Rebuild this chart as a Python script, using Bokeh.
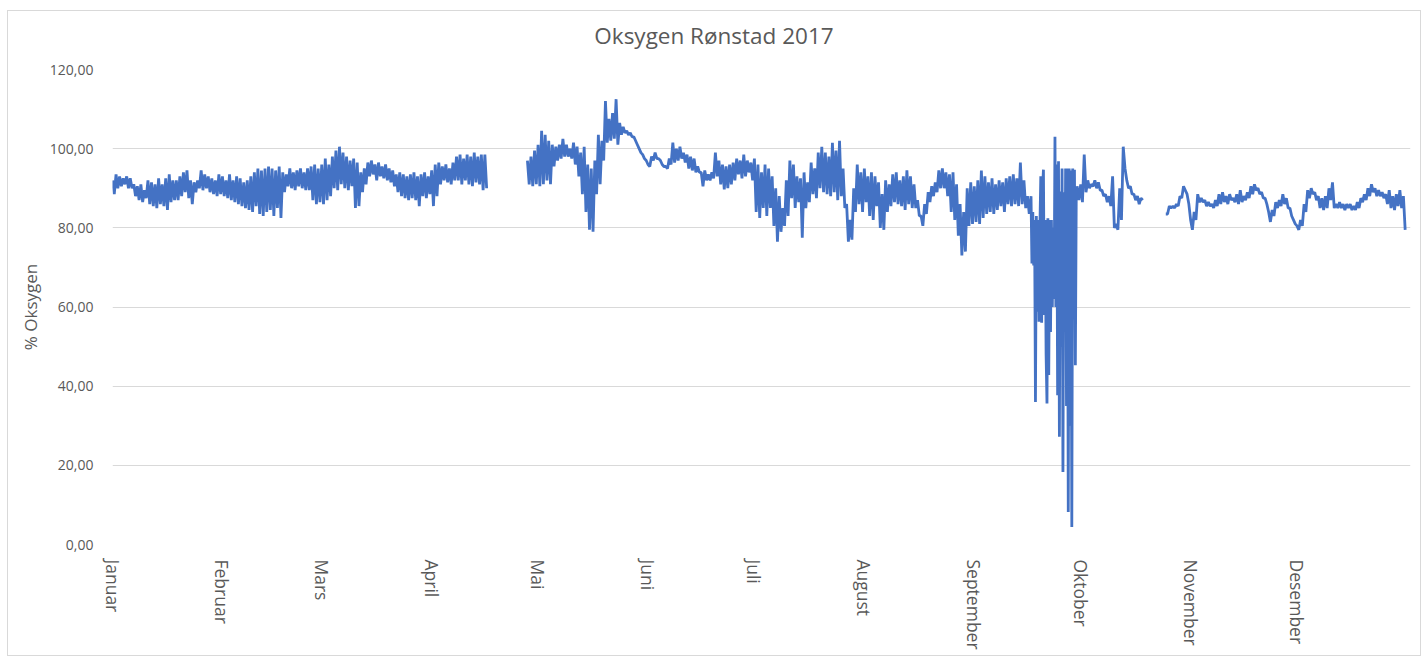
import datetime as dt
from bokeh.plotting import figure
from bokeh.layouts import column
from bokeh.models import Range1d, FixedTicker, ColumnDataSource, CustomJSTickFormatter, Div
from bokeh.embed import file_html
from bokeh.resources import INLINE

# ---------------- data (daily high / low of % oxygen) ----------------
title_text = "Oksygen Rønstad 2017"
month_names = ["Januar", "Februar", "Mars", "April", "Mai", "Juni", "Juli",
               "August", "September", "Oktober", "November", "Desember"]
y_ticks = [0, 20, 40, 60, 80, 100, 120]

hi_jan = [92, 93.5, 93, 92.5, 93, 92.5, 91, 90.5, 91, 89.5, 92, 91.5, 91, 92.5, 91, 92.5,
          93.5, 92, 92, 93, 94, 94.5, 92, 91.5, 92, 94.5, 93.5, 93, 92.5, 92, 93.5]
lo_jan = [88.5, 90, 90.5, 91, 90, 90, 88, 87, 86.5, 87.5, 86, 85.5, 85, 86, 85.5, 84.5,
          86.5, 87, 87, 88, 89, 87.5, 86, 89, 90, 89.5, 90, 89, 88.5, 88, 88.5]

hi_feb = [93, 92, 93.5, 92, 93, 92.5, 91.5, 92, 93, 94, 95, 94.5, 95, 95.5, 95, 94.5,
          95.5, 94, 93.5, 95, 94, 94.5, 95, 94, 95, 95.5, 96, 95]
lo_feb = [88, 87.5, 87, 86.5, 86, 85.5, 85, 84.5, 84, 85.5, 83.5, 83, 84, 84.5, 83, 85,
          82.5, 89, 90.5, 90, 89.5, 90.5, 90, 89.5, 89.5, 87, 86, 86.5]

hi_mar = [96, 97.5, 96, 98, 99.5, 100.5, 99, 98, 97, 97.5, 96.5, 94, 95, 96.5, 97, 96,
          96.5, 95.5, 96, 95, 94.5, 93.5, 94, 93.5, 93, 93.5, 94, 93, 93.5, 94, 93]
lo_mar = [86, 87, 88, 90, 89.5, 91, 90, 89.5, 90.5, 85, 85.5, 89, 91, 93, 93.5, 92,
          93, 92.5, 92, 91.5, 90.5, 89, 88, 87.5, 87, 87.5, 87, 85.5, 88, 87.5, 88.5]

hi_apr = [94.5, 96, 96.5, 95.5, 96, 95, 96.5, 98, 98.5, 97.5, 98.5, 98, 99, 98, 98.5, 98.5,
          None, None, None, None, None, None, None, None, None, None, None,
          97, 98, 99.5]
lo_apr = [85.5, 88, 91, 92, 91.5, 91, 92, 92, 91, 92, 91, 90.5, 91.5, 91, 89.5, 90,
          None, None, None, None, None, None, None, None, None, None, None,
          91, 90.5, 91]

hi_mai = [101, 104.5, 103.5, 102, 101, 100.5, 101, 102.5, 101, 100, 101.5, 100.5, 99, 100.5,
          96, 95, 97, 103.5, 102, 112, 107.5, 109, 112.5, 106.5, 105.5, 104.5, 104, 103,
          101, 99, 97.5]
lo_mai = [90.5, 91, 92, 91, 95.5, 97, 97.5, 98, 98, 97.5, 96, 93, 88.5, 84, 79.5, 79,
          88.5, 91, 97, 101.5, 102, 102.5, 101, 103.5, 104, 103.5, 103, 102, 100, 98.5, 97]

hi_jun = [96, 98, 99, 97.5, 96, 95.5, 97.5, 101.5, 100, 100.5, 99, 98.5, 98, 97.5, 95.5,
          94, 94.5, 93.5, 94, 99, 97, 96, 95.5, 96, 96.5, 97.5, 97, 98.5, 97, 96.5]
lo_jun = [95.5, 97, 97.5, 97, 95.5, 95, 96, 96.5, 97, 97.5, 96.5, 95, 94.5, 94, 94,
          90.5, 92, 92, 92.5, 93, 91, 89.7, 90, 91, 92, 93.5, 92.5, 93, 94, 92]

hi_jul = [97.5, 96, 94, 96, 95, 93, 90, 88, 85, 92, 97, 96, 93, 92.5, 94, 91.5, 96.5, 95,
          99, 100.5, 99, 98, 101.5, 99.5, 102, 95, 86, 82, 90, 96, 94]
lo_jul = [84, 82.5, 85, 83, 85, 80.5, 76.5, 79, 80.5, 83, 87.5, 85, 86.5, 77.5, 85, 86.5,
          88.5, 87.5, 90, 89, 88.5, 88, 89, 87, 88, 85, 76.5, 77, 84, 86, 84]

hi_aug = [95, 93, 94, 93, 91.5, 88.5, 92, 91, 93.5, 94, 92, 93, 94.5, 93, 91, 87, 83, 86,
          89, 90.5, 91.5, 94.5, 95, 94, 93.5, 94, 91, 86, 84, 90, 91.5]
lo_aug = [86.5, 83, 82, 85.5, 80, 79.5, 84, 85.5, 86.5, 86, 85.5, 84.5, 86, 85, 85, 83,
          80.5, 83.5, 86.5, 88, 89, 90, 90, 88, 84, 82, 78, 73, 74, 80.5, 81]

hi_sep = [90.5, 92, 94.5, 93, 91.5, 92.5, 91, 92, 91.5, 92.5, 93, 93.5, 92.5, 96.5, 92,
          88, 92, 86, 82, 94.5, 83, 82, 103, 96.5, 96.5, 95, 96, 95, 94.5, 90.5]
lo_sep = [81.5, 81, 82.5, 83.5, 84, 83.5, 84.5, 85.5, 84, 86, 85.5, 86, 85.5, 86, 85,
          83.5, 70.5, 36, 56, 35.5, 42.5, 56, 60, 27, 18.5, 50, 8, 4.5, 45.5, 87]

# late-September oxygen collapse, read at quarter-day resolution (days 259..271)
dip_first_day = 259
dip_samples = [88, 71, 84, 70.5, 82, 36, 83, 58.8, 82, 56.3, 80, 93,
               56, 90, 94.7, 58, 82, 48, 35.6, 82.4, 42.8, 82, 53.7, 82,
               60, 80, 62, 103, 60, 96, 37.7, 96.8, 27.2, 89.2, 50, 95,
               18.3, 89, 55, 95, 35, 95, 8.2, 95, 30, 94.5, 4.4, 95,
               60, 94.7, 45.3, 88]

hi_okt = [91, 98.5, 92, 91, 92, 91.5, 89.5, 88.5, 88, 93, 81, 90, 100.5, 92, 90.5, 88.5,
          88, 87.5, None, None, None, None, None, None,
          83.5, 85.5, 85.5, 86, 88, 90.5, 88.5]
lo_okt = [86.5, 89, 90, 90.5, 90, 89.5, 88, 86.5, 85.5, 80, 79.5, 82, 95, 90, 88.5, 87,
          86, 87, None, None, None, None, None, None,
          83.5, 85, 85, 85.5, 87.5, 89.5, 86]

hi_nov = [82, 84, 88.5, 87.5, 87, 86.5, 86, 87, 88.5, 89, 88, 88.5, 87.5, 88.5, 89.5, 88,
          89, 90.5, 91, 90, 89, 87.5, 84, 84.5, 86.5, 87, 88.5, 87.5, 85, 82]
lo_nov = [79.5, 82, 86.5, 86.5, 85.5, 85.5, 85, 85.5, 86, 86.5, 86, 87, 86.5, 86, 86.5,
          87, 87.5, 88.5, 89.5, 88.5, 87.5, 86, 81.5, 83, 85, 85.5, 86, 85, 83, 81]

hi_des = [80.5, 82, 86, 89.5, 90, 89, 88, 87.5, 88, 90, 91.5, 86, 86.5, 86, 86, 86, 85.5,
          86.5, 87.5, 88.5, 90, 91, 90, 89.5, 89, 88.5, 89.5, 88, 88.5, 89.5, 88]
lo_des = [79.5, 80.5, 84, 87.5, 88.5, 87, 85, 84.5, 85, 87, 85, 85, 85, 84.5, 85, 84.5,
          84.5, 85, 86.5, 87, 88, 89, 88, 88, 87.5, 86, 85, 84.5, 85.5, 85, 79.5]

# ---------------- build series ----------------
daily_hi = hi_jan + hi_feb + hi_mar + hi_apr + hi_mai + hi_jun + hi_jul + hi_aug + hi_sep + hi_okt + hi_nov + hi_des
daily_lo = lo_jan + lo_feb + lo_mar + lo_apr + lo_mai + lo_jun + lo_jul + lo_aug + lo_sep + lo_okt + lo_nov + lo_des

dip_days = len(dip_samples) // 4
xs, ys = [], []
for d, (h, l) in enumerate(zip(daily_hi, daily_lo)):
    if dip_first_day <= d < dip_first_day + dip_days:
        k = (d - dip_first_day) * 4
        for j in range(4):
            xs.append(d + j * 0.25)
            ys.append(dip_samples[k + j])
        continue
    xs += [d, d + 0.5]
    ys += [float("nan") if h is None else h, float("nan") if l is None else l]

start = dt.date(2017, 1, 1)
month_days = [(dt.date(2017, m, 1) - start).days for m in range(1, 13)]

src = ColumnDataSource(data=dict(x=xs, y=ys))

FONT = "Open Sans"
GREY = "#595959"

title_div = Div(
    text=(f'<div style="width:1412px;height:49px;line-height:49px;text-align:center;'
          f'font-family:\'{FONT}\';font-size:22.5px;color:{GREY};white-space:nowrap;">'
          f'{title_text}</div>'),
    width=1412, height=49, margin=0)

p = figure(width=1412, height=595, output_backend="svg", toolbar_location=None,
           title_location=None,
           x_range=Range1d(0, 366), y_range=Range1d(0, 120),
           min_border_left=104, min_border_right=10, min_border_top=9, min_border_bottom=111,
           background_fill_color="white", border_fill_color="white", margin=0)
p.outline_line_color = None

p.line("x", "y", source=src, line_color="#4472C4", line_width=2.8)

# y axis
p.yaxis.ticker = FixedTicker(ticks=y_ticks)
p.yaxis.formatter = CustomJSTickFormatter(code="return tick.toFixed(2).replace('.', ',');")
p.yaxis.axis_line_color = None
p.yaxis.major_tick_line_color = None
p.yaxis.minor_tick_line_color = None
p.yaxis.major_label_text_font = FONT
p.yaxis.major_label_text_font_size = "14px"
p.yaxis.major_label_text_color = GREY
p.yaxis.major_label_standoff = 13
p.yaxis.axis_label = "% Oksygen"
p.yaxis.axis_label_text_font = FONT
p.yaxis.axis_label_text_font_size = "17px"
p.yaxis.axis_label_text_font_style = "normal"
p.yaxis.axis_label_text_color = GREY
p.yaxis.axis_label_standoff = 5

# x axis
p.xaxis.ticker = FixedTicker(ticks=month_days)
p.xaxis.major_label_overrides = {d: n for d, n in zip(month_days, month_names)}
p.xaxis.major_label_orientation = "vertical"
p.xaxis.axis_line_color = None
p.xaxis.major_tick_line_color = None
p.xaxis.minor_tick_line_color = None
p.xaxis.major_label_text_font = FONT
p.xaxis.major_label_text_font_size = "17.5px"
p.xaxis.major_label_text_color = GREY
p.xaxis.major_label_standoff = 9

p.xgrid.grid_line_color = None
p.ygrid.grid_line_color = "#d9d9d9"
p.ygrid.grid_line_width = 1

layout = column(title_div, p, spacing=0,
                styles={"border": "1px solid #d9d9d9", "margin-left": "7px",
                        "margin-top": "10px", "background": "white"})

open("out.html", "w").write(file_html(layout, INLINE))
